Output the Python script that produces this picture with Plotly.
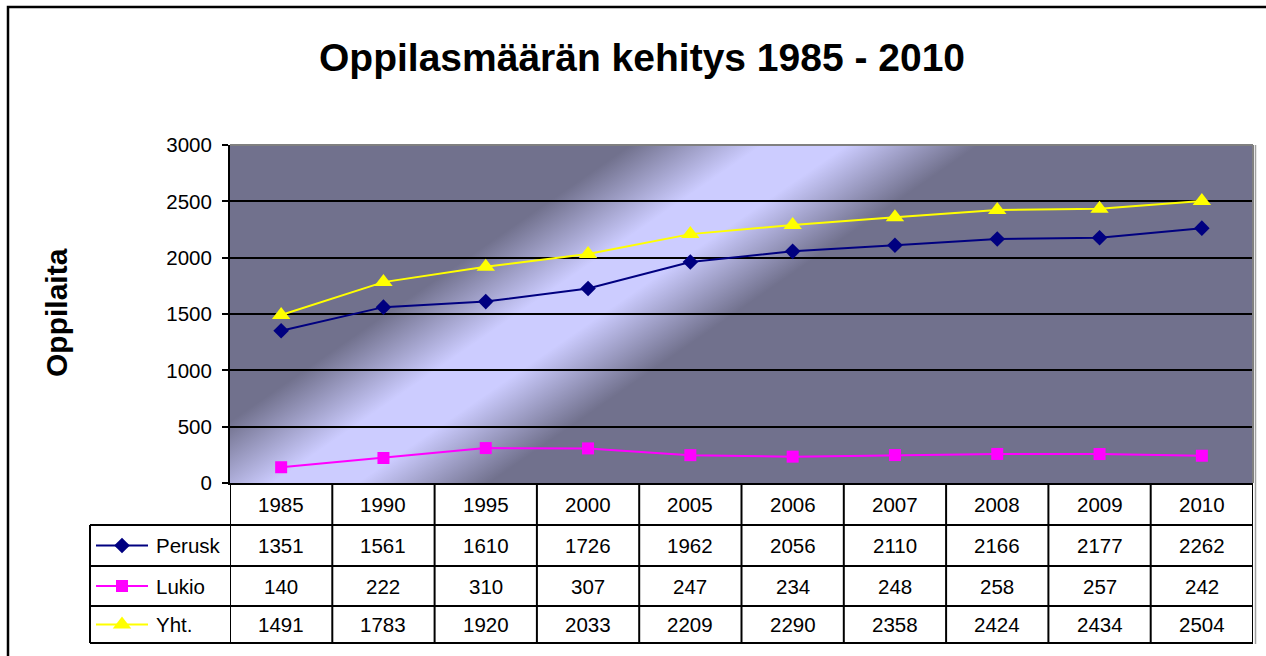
import base64
import plotly.graph_objects as go

# ---------------- data ----------------
years = ["1985", "1990", "1995", "2000", "2005", "2006", "2007", "2008", "2009", "2010"]
perusk = [1351, 1561, 1610, 1726, 1962, 2056, 2110, 2166, 2177, 2262]
lukio = [140, 222, 310, 307, 247, 234, 248, 258, 257, 242]
yht = [1491, 1783, 1920, 2033, 2209, 2290, 2358, 2424, 2434, 2504]
series_names = ["Perusk", "Lukio", "Yht."]
y_ticks = [0, 500, 1000, 1500, 2000, 2500, 3000]
title_text = "Oppilasmäärän kehitys 1985 - 2010"
y_title = "Oppilaita"

# ---------------- layout constants (pixels) ----------------
W, H = 1266, 656
PL, PR, PT, PB = 230, 1253, 145, 483          # plot area
TABLE_LEFT = 90
ROW_LINES = [483, 525, 566, 606, 643]
FONT = "Liberation Sans, Arial, sans-serif"

def px(x):
    return x / W

def py(y):
    return 1 - y / H

colors = ["#000080", "#FF00FF", "#FFFF00"]
symbols = ["diamond", "square", "triangle-up"]
msizes = [12, 12, 16]
values = [perusk, lukio, yht]

# ---------------- gradient background (SVG) ----------------
pw, ph = PR - PL, PB - PT
svg = f'''<svg xmlns="http://www.w3.org/2000/svg" width="{pw}" height="{ph}" viewBox="0 0 {pw} {ph}" preserveAspectRatio="none">
<defs><linearGradient id="g" gradientUnits="userSpaceOnUse" x1="0" y1="0" x2="488" y2="707">
<stop offset="0" stop-color="#71718D"/>
<stop offset="0.265" stop-color="#71718D"/>
<stop offset="0.352" stop-color="#CCCCFF"/>
<stop offset="0.408" stop-color="#CCCCFF"/>
<stop offset="0.495" stop-color="#71718D"/>
<stop offset="1" stop-color="#71718D"/>
</linearGradient></defs>
<rect x="0" y="0" width="{pw}" height="{ph}" fill="url(#g)"/>
</svg>'''
svg_uri = "data:image/svg+xml;base64," + base64.b64encode(svg.encode()).decode()

fig = go.Figure()

# data traces
for name, vals, c, s, ms in zip(series_names, values, colors, symbols, msizes):
    fig.add_trace(go.Scatter(
        x=years, y=vals, name=name, mode="lines+markers",
        line=dict(color=c, width=2),
        marker=dict(symbol=s, size=ms, color=c),
        xaxis="x", yaxis="y", showlegend=False, cliponaxis=False,
    ))

# legend keys inside the data table (pixel overlay axis)
row_centers = [(ROW_LINES[i] + ROW_LINES[i + 1]) / 2 for i in range(4)]
for i, (name, c, s, ms) in enumerate(zip(series_names, colors, symbols, msizes)):
    yc = row_centers[i + 1]
    fig.add_trace(go.Scatter(
        x=[96, 148], y=[yc, yc], mode="lines", line=dict(color=c, width=2),
        xaxis="x2", yaxis="y2", showlegend=False, hoverinfo="skip",
    ))
    fig.add_trace(go.Scatter(
        x=[122], y=[yc], mode="markers", marker=dict(symbol=s, size=ms, color=c),
        xaxis="x2", yaxis="y2", showlegend=False, hoverinfo="skip",
    ))

shapes = []
annotations = []

# outer chart border
shapes.append(dict(type="rect", xref="paper", yref="paper",
                   x0=px(8), y0=py(7), x1=px(W + 20), y1=py(H + 20),
                   line=dict(color="black", width=2.5), layer="above"))

# plot area top/right gray border
shapes.append(dict(type="line", xref="paper", yref="paper",
                   x0=px(PL), x1=px(PR), y0=py(PT), y1=py(PT),
                   line=dict(color="#808080", width=2)))
shapes.append(dict(type="line", xref="paper", yref="paper",
                   x0=px(PR), x1=px(PR), y0=py(PT), y1=py(PB),
                   line=dict(color="#808080", width=2)))
# shadow at right
shapes.append(dict(type="line", xref="paper", yref="paper",
                   x0=px(PR + 2.5), x1=px(PR + 2.5), y0=py(PT), y1=py(ROW_LINES[-1] + 1),
                   line=dict(color="#A0A0A0", width=1.5)))

# table horizontal lines
for yl in ROW_LINES[1:]:
    shapes.append(dict(type="line", xref="paper", yref="paper",
                       x0=px(TABLE_LEFT), x1=px(PR), y0=py(yl), y1=py(yl),
                       line=dict(color="black", width=2)))
# legend column left border
shapes.append(dict(type="line", xref="paper", yref="paper",
                   x0=px(TABLE_LEFT), x1=px(TABLE_LEFT), y0=py(ROW_LINES[1]), y1=py(ROW_LINES[-1]),
                   line=dict(color="black", width=2)))
# table vertical lines (category boundaries)
for i in range(len(years) + 1):
    shapes.append(dict(type="line", xref="x", yref="paper",
                       x0=i - 0.5, x1=i - 0.5, y0=py(PB), y1=py(ROW_LINES[-1]),
                       line=dict(color="black", width=2)))

cell_font = dict(family=FONT, size=20.5, color="black")
# year row
for i, yr in enumerate(years):
    annotations.append(dict(x=i, y=py(row_centers[0]), xref="x", yref="paper",
                            text=yr, showarrow=False, font=cell_font,
                            xanchor="center", yanchor="middle"))
# value rows
for r, (name, vals) in enumerate(zip(series_names, values)):
    yc = row_centers[r + 1]
    annotations.append(dict(x=px(154), y=py(yc), xref="paper", yref="paper",
                            text=name, showarrow=False, font=cell_font,
                            xanchor="left", yanchor="middle"))
    for i, v in enumerate(vals):
        annotations.append(dict(x=i, y=py(yc), xref="x", yref="paper",
                                text=str(v), showarrow=False, font=cell_font,
                                xanchor="center", yanchor="middle"))

# title
annotations.append(dict(x=px(642), y=py(57), xref="paper", yref="paper",
                        text=f"<b>{title_text}</b>", showarrow=False,
                        font=dict(family=FONT, size=39, color="black"),
                        xanchor="center", yanchor="middle"))
# y axis title
annotations.append(dict(x=px(57), y=py(313), xref="paper", yref="paper",
                        text=f"<b>{y_title}</b>", showarrow=False, textangle=-90,
                        font=dict(family=FONT, size=30, color="black"),
                        xanchor="center", yanchor="middle"))

fig.update_layout(
    width=W, height=H, autosize=False,
    margin=dict(l=0, r=0, t=0, b=0, pad=0, autoexpand=False),
    paper_bgcolor="white", plot_bgcolor="rgba(0,0,0,0)",
    showlegend=False,
    xaxis=dict(domain=[px(PL), px(PR)], type="category", categoryarray=years,
               range=[-0.5, len(years) - 0.5], showticklabels=False, ticks="",
               showgrid=False, zeroline=False, showline=True, linecolor="black",
               linewidth=2, anchor="y", fixedrange=True, automargin=False),
    yaxis=dict(domain=[py(PB), py(PT)], range=[0, 3000], tickvals=y_ticks,
               ticks="outside", ticklen=6, tickwidth=2, tickcolor="black",
               ticklabelstandoff=6,
               tickfont=dict(family=FONT, size=20.5, color="black"),
               showgrid=True, gridcolor="black", gridwidth=2,
               zeroline=False, showline=True, linecolor="black", linewidth=2,
               anchor="x", fixedrange=True, automargin=False),
    xaxis2=dict(domain=[0, 1], range=[0, W], visible=False, anchor="y2",
                fixedrange=True, automargin=False),
    yaxis2=dict(domain=[0, 1], range=[H, 0], visible=False, anchor="x2",
                fixedrange=True, automargin=False),
    images=[dict(source=svg_uri, xref="paper", yref="paper",
                 x=px(PL), y=py(PT), sizex=px(PR) - px(PL), sizey=py(PT) - py(PB),
                 sizing="stretch", xanchor="left", yanchor="top", layer="below")],
    shapes=shapes,
    annotations=annotations,
)

fig.write_html(
    "out.html",
    config={"displayModeBar": False},
    post_script="document.body.style.margin='0';document.body.style.overflow='hidden';",
)
